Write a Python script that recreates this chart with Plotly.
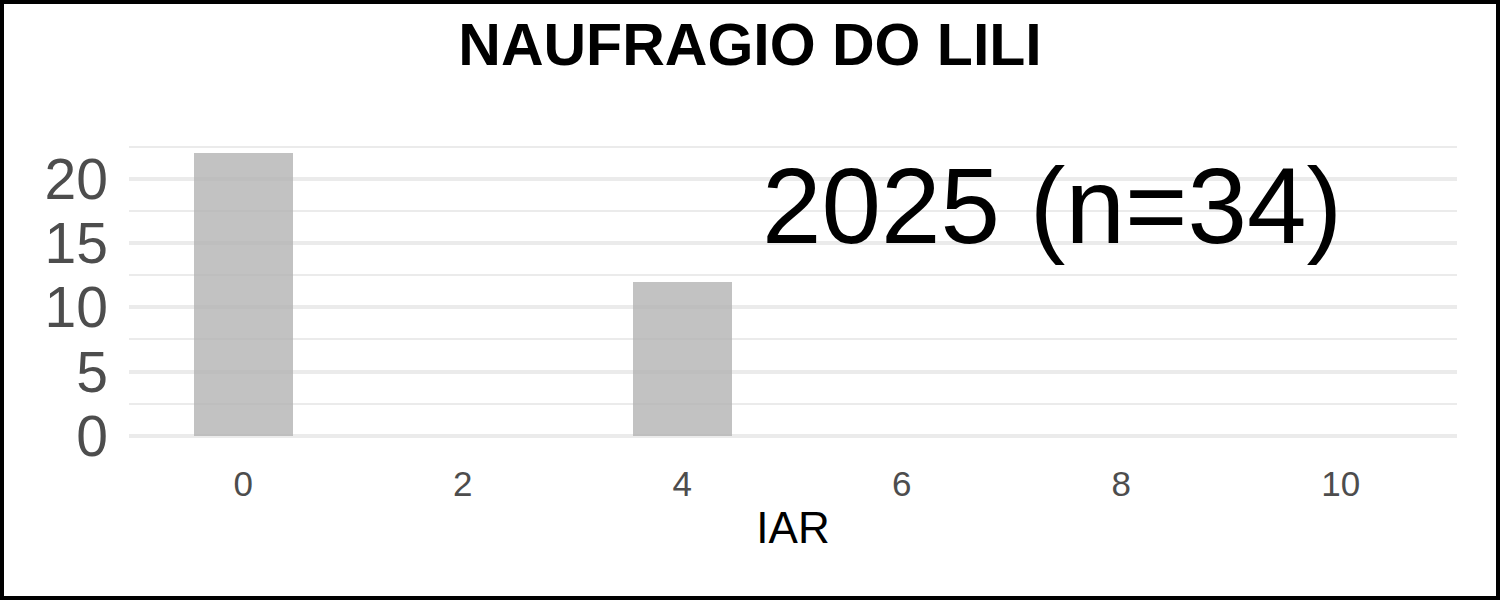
import plotly.graph_objects as go

# Data
iar = [0, 4]
counts = [22, 12]
x_ticks = [0, 2, 4, 6, 8, 10]
y_ticks = [0, 5, 10, 15, 20]
title_text = "NAUFRAGIO DO LILI"
annot_text = "2025 (n=34)"
x_title = "IAR"

W, H = 1500, 600
ML, MR, MT, MB = 129, 43, 139, 150
PW, PH = W - ML - MR, H - MT - MB

fig = go.Figure()
fig.add_trace(go.Bar(
    x=iar, y=counts, width=0.9,
    marker=dict(color="#b3b3b3", opacity=0.8, line=dict(width=0)),
    showlegend=False, hoverinfo="x+y",
))

font_family = "Liberation Sans, Arial, sans-serif"

fig.update_layout(
    width=W, height=H,
    margin=dict(l=ML, r=MR, t=MT, b=MB, pad=0),
    paper_bgcolor="white", plot_bgcolor="white",
    font=dict(family=font_family),
    title=dict(text=title_text, x=0.5, xref="container", xanchor="center",
               y=1 - 44 / H, yref="container", yanchor="middle",
               font=dict(size=59, color="black", family=font_family, weight="bold")),
    xaxis=dict(range=[-1.04, 11.06], tickvals=x_ticks, ticktext=[str(v) for v in x_ticks],
               showgrid=False, zeroline=False, showline=False, ticks="",
               tickfont=dict(size=35, color="#4d4d4d"), ticklabelstandoff=10,
               title=dict(text=x_title, font=dict(size=44, color="black"), standoff=10)),
    yaxis=dict(range=[-1.1, 23.1], tickvals=y_ticks, ticktext=[str(v) for v in y_ticks],
               showgrid=True, gridcolor="#ebebeb", gridwidth=3.5, zeroline=False, showline=False,
               ticks="", tickfont=dict(size=57, color="#4d4d4d"), ticklabelstandoff=20,
               minor=dict(tickvals=[2.5, 7.5, 12.5, 17.5, 22.5], showgrid=True,
                          gridcolor="#ebebeb", gridwidth=2, ticks="")),
    bargap=0,
)

fig.add_annotation(
    x=7.37, y=17.9, xref="x", yref="y", text=annot_text, showarrow=False,
    font=dict(size=107, color="black", family=font_family),
    xanchor="center", yanchor="middle",
)

# Outer black border around the whole figure
bw = 4
fig.add_shape(
    type="rect", xref="paper", yref="paper",
    x0=(-ML + bw / 2) / PW, x1=1 + (MR - bw / 2) / PW,
    y0=(-MB + bw / 2) / PH, y1=1 + (MT - bw / 2) / PH,
    line=dict(color="black", width=bw), fillcolor="rgba(0,0,0,0)", layer="above",
)

fig.write_html("out.html")
